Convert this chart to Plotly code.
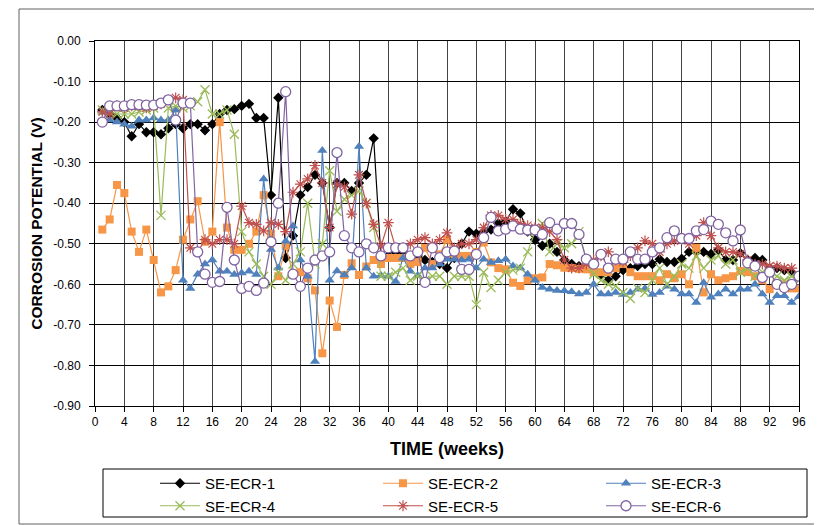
import plotly.graph_objects as go

weeks = list(range(1, 97))

ecr1 = [-0.17, -0.18, -0.19, -0.20, -0.235, -0.205, -0.225, -0.225, -0.23, -0.215,
        -0.205, -0.215, -0.205, -0.205, -0.22, -0.205, -0.18, -0.17, -0.168, -0.16,
        -0.155, -0.19, -0.19, -0.38, -0.14, -0.535, -0.48, -0.38, -0.36, -0.33,
        -0.35, -0.46, -0.35, -0.35, -0.37, -0.35, -0.33, -0.24, -0.535, -0.53,
        -0.52, -0.52, -0.53, -0.53, -0.54, -0.545, -0.55, -0.56, -0.535, -0.50,
        -0.47, -0.475, -0.47, -0.465, -0.45, -0.445, -0.415, -0.425, -0.47, -0.49,
        -0.505, -0.50, -0.52, -0.54, -0.55, -0.555, -0.56, -0.567, -0.575, -0.59,
        -0.58, -0.565, -0.56, -0.555, -0.55, -0.55, -0.538, -0.545, -0.545, -0.537,
        -0.52, -0.52, -0.52, -0.525, -0.515, -0.54, -0.54, -0.523, -0.54, -0.535,
        -0.54, -0.56, -0.56, -0.565, -0.57, None]

ecr2 = [-0.465, -0.44, -0.355, -0.375, -0.47, -0.52, -0.465, -0.54, -0.62, -0.605,
        -0.565, -0.49, -0.44, -0.395, -0.495, -0.47, -0.20, -0.46, -0.515, -0.515,
        -0.50, -0.47, -0.38, -0.475, -0.58, -0.505, -0.575, -0.57, -0.585, -0.615,
        -0.77, -0.64, -0.705, -0.577, -0.548, -0.577, -0.556, -0.54, -0.55, -0.535,
        -0.535, -0.535, -0.55, -0.545, -0.51, -0.55, -0.526, -0.49, -0.526, -0.53,
        -0.53, -0.52, -0.497, -0.546, -0.56, -0.563, -0.596, -0.604, -0.59, -0.585,
        -0.583, -0.55, -0.553, -0.559, -0.56, -0.562, -0.563, -0.57, -0.57, -0.57,
        -0.56, -0.55, -0.57, -0.58, -0.58, -0.58, -0.59, -0.575, -0.585, -0.575,
        -0.60, -0.51, -0.62, -0.575, -0.59, -0.585, -0.58, -0.567, -0.57, -0.58,
        -0.59, -0.612, -0.60, -0.60, -0.61, -0.61]

ecr3 = [-0.175, -0.195, -0.20, -0.205, -0.21, -0.195, -0.195, -0.19, -0.195, -0.195,
        -0.17, -0.59, -0.61, -0.575, -0.55, -0.54, -0.568, -0.568, -0.576, -0.572,
        -0.568, -0.576, -0.34, -0.514, -0.56, -0.494, -0.456, -0.54, -0.58, -0.79,
        -0.27, -0.59, -0.567, -0.577, -0.56, -0.26, -0.56, -0.58, -0.578, -0.58,
        -0.593, -0.535, -0.568, -0.578, -0.56, -0.56, -0.55, -0.538, -0.538, -0.54,
        -0.538, -0.56, -0.538, -0.546, -0.542, -0.538, -0.555, -0.56, -0.575, -0.59,
        -0.608, -0.612, -0.615, -0.616, -0.618, -0.624, -0.62, -0.60, -0.624, -0.624,
        -0.62, -0.625, -0.62, -0.612, -0.61, -0.625, -0.62, -0.605, -0.612, -0.624,
        -0.624, -0.645, -0.596, -0.632, -0.624, -0.612, -0.624, -0.612, -0.612, -0.60,
        -0.624, -0.645, -0.628, -0.628, -0.645, -0.63]

ecr4 = [-0.17, -0.175, -0.18, -0.18, -0.18, -0.175, -0.17, -0.165, -0.43, -0.165,
        -0.16, -0.165, -0.16, -0.15, -0.12, -0.18, -0.18, -0.17, -0.23, -0.47,
        -0.52, -0.55, -0.58, -0.60, -0.57, -0.59, -0.55, -0.52, -0.40, -0.55,
        -0.50, -0.32, -0.42, -0.39, -0.38, -0.37, -0.40, -0.46, -0.58, -0.58,
        -0.57, -0.56, -0.59, -0.58, -0.59, -0.58, -0.58, -0.60, -0.58, -0.58,
        -0.58, -0.65, -0.57, -0.608, -0.59, -0.57, -0.565, -0.56, -0.52, -0.47,
        -0.45, -0.52, -0.50, -0.51, -0.50, -0.47, -0.54, -0.575, -0.59, -0.60,
        -0.604, -0.62, -0.635, -0.61, -0.62, -0.59, -0.56, -0.60, -0.58, -0.55,
        -0.56, -0.53, -0.56, -0.54, -0.53, -0.55, -0.54, -0.57, -0.56, -0.58,
        -0.57, -0.57, -0.58, -0.59, -0.58, -0.59]

ecr5 = [-0.175, -0.18, -0.16, -0.165, -0.16, -0.16, -0.165, -0.16, -0.155, -0.145,
        -0.14, -0.145, -0.51, -0.52, -0.49, -0.50, -0.49, -0.49, -0.50, -0.407,
        -0.448, -0.452, -0.468, -0.448, -0.452, -0.47, -0.373, -0.353, -0.34, -0.307,
        -0.35, -0.46, -0.353, -0.36, -0.427, -0.33, -0.40, -0.452, -0.506, -0.448,
        -0.51, -0.51, -0.50, -0.49, -0.485, -0.50, -0.49, -0.473, -0.51, -0.50,
        -0.50, -0.49, -0.46, -0.43, -0.43, -0.44, -0.44, -0.45, -0.455, -0.46,
        -0.46, -0.47, -0.49, -0.54, -0.56, -0.56, -0.55, -0.54, -0.53, -0.52,
        -0.54, -0.545, -0.53, -0.51, -0.493, -0.50, -0.52, -0.50, -0.493, -0.49,
        -0.50, -0.48, -0.448, -0.48, -0.51, -0.52, -0.52, -0.525, -0.54, -0.55,
        -0.55, -0.555, -0.555, -0.56, -0.56, None]

ecr6 = [-0.20, -0.16, -0.16, -0.16, -0.157, -0.157, -0.158, -0.158, -0.153, -0.145,
        -0.195, -0.153, -0.153, -0.52, -0.575, -0.595, -0.593, -0.41, -0.54, -0.61,
        -0.605, -0.615, -0.597, -0.495, -0.40, -0.125, -0.575, -0.605, -0.56, -0.54,
        -0.53, -0.52, -0.275, -0.48, -0.51, -0.52, -0.50, -0.51, -0.53, -0.51,
        -0.51, -0.51, -0.53, -0.52, -0.595, -0.51, -0.534, -0.52, -0.518, -0.563,
        -0.563, -0.526, -0.485, -0.435, -0.468, -0.464, -0.456, -0.464, -0.466, -0.466,
        -0.477, -0.448, -0.464, -0.45, -0.45, -0.477, -0.538, -0.55, -0.526, -0.56,
        -0.538, -0.538, -0.52, -0.538, -0.538, -0.52, -0.51, -0.485, -0.468, -0.487,
        -0.487, -0.468, -0.465, -0.444, -0.452, -0.473, -0.493, -0.466, -0.547, -0.555,
        -0.583, -0.57, -0.60, -0.608, -0.60, -0.58]

names = ["SE-ECR-1", "SE-ECR-2", "SE-ECR-3", "SE-ECR-4", "SE-ECR-5", "SE-ECR-6"]
series = [ecr1, ecr2, ecr3, ecr4, ecr5, ecr6]

ytick_vals = [0, -0.1, -0.2, -0.3, -0.4, -0.5, -0.6, -0.7, -0.8, -0.9]
ytick_text = ["0.00", "-0.10", "-0.20", "-0.30", "-0.40", "-0.50", "-0.60", "-0.70", "-0.80", "-0.90"]
xtick_vals = list(range(0, 97, 4))

styles = [
    dict(line=dict(color="#000000", width=1.2),
         marker=dict(symbol="diamond", size=8, color="#000000")),
    dict(line=dict(color="#F79646", width=1.2),
         marker=dict(symbol="square", size=8, color="#F79646")),
    dict(line=dict(color="#4F81BD", width=1.2),
         marker=dict(symbol="triangle-up", size=9, color="#4F81BD")),
    dict(line=dict(color="#9BBB59", width=1.2),
         marker=dict(symbol="x-thin-open", size=9, color="#9BBB59",
                     line=dict(color="#9BBB59", width=1.3))),
    dict(line=dict(color="#C0504D", width=1.2),
         marker=dict(symbol="asterisk-open", size=9, color="#C0504D",
                     line=dict(color="#C0504D", width=1.2))),
    dict(line=dict(color="#8064A2", width=1.2),
         marker=dict(symbol="circle", size=10, color="#FFFFFF",
                     line=dict(color="#8064A2", width=1.3))),
]

fig = go.Figure()
for name, vals, st in zip(names, series, styles):
    fig.add_trace(go.Scatter(x=weeks, y=vals, mode="lines+markers", name=name,
                             connectgaps=False, **st))

font_family = "Liberation Sans, Arial, sans-serif"

# page offset of the figure inside the browser window (default body margin)
OFF = 7
# desired plot-area position on screen
L, R, T, B = 94, 798, 40, 405


def px(x):
    return (x - L) / (R - L)


def py(y):
    return (B - y) / (B - T)


fig.update_layout(
    width=822, height=525,
    margin=dict(l=L - OFF, r=822 - (R - OFF), t=T - OFF, b=525 - (B - OFF), autoexpand=False),
    paper_bgcolor="white", plot_bgcolor="white",
    font=dict(family=font_family, size=12, color="#000000"),
    showlegend=True,
    legend=dict(orientation="h", x=px(154), xanchor="left",
                y=py(466), yanchor="top",
                entrywidth=168, entrywidthmode="pixels",
                font=dict(size=15, family=font_family),
                bgcolor="rgba(0,0,0,0)", borderwidth=0, itemwidth=40),
    xaxis=dict(range=[0, 96], tickvals=xtick_vals, showgrid=True, automargin=False,
               gridcolor="#444444", gridwidth=1, showline=True, linecolor="#000000",
               linewidth=1, mirror=True, ticks="outside", ticklen=5, tickcolor="#000000",
               zeroline=False, tickfont=dict(size=12),
               title=dict(text="<b>TIME (weeks)</b>", font=dict(size=18), standoff=13)),
    yaxis=dict(range=[-0.9, 0], tickvals=ytick_vals, ticktext=ytick_text, showgrid=True,
               automargin=False,
               gridcolor="#000000", gridwidth=1, showline=True, linecolor="#000000",
               linewidth=1, mirror=True, ticks="outside", ticklen=5, tickcolor="#000000",
               zeroline=False, tickfont=dict(size=12), ticklabelstandoff=6,
               title=dict(text="<b>CORROSION POTENTIAL (V)</b>", font=dict(size=15.5), standoff=6)),
    shapes=[
        dict(type="rect", xref="paper", yref="paper",
             x0=px(102), x1=px(806), y0=py(516), y1=py(468),
             line=dict(color="#000000", width=1), fillcolor="rgba(0,0,0,0)", layer="above"),
        dict(type="rect", xref="paper", yref="paper",
             x0=px(18), x1=px(817), y0=py(523), y1=py(8),
             line=dict(color="#606060", width=1), fillcolor="rgba(0,0,0,0)", layer="below"),
    ],
)

fig.write_html("out.html")
